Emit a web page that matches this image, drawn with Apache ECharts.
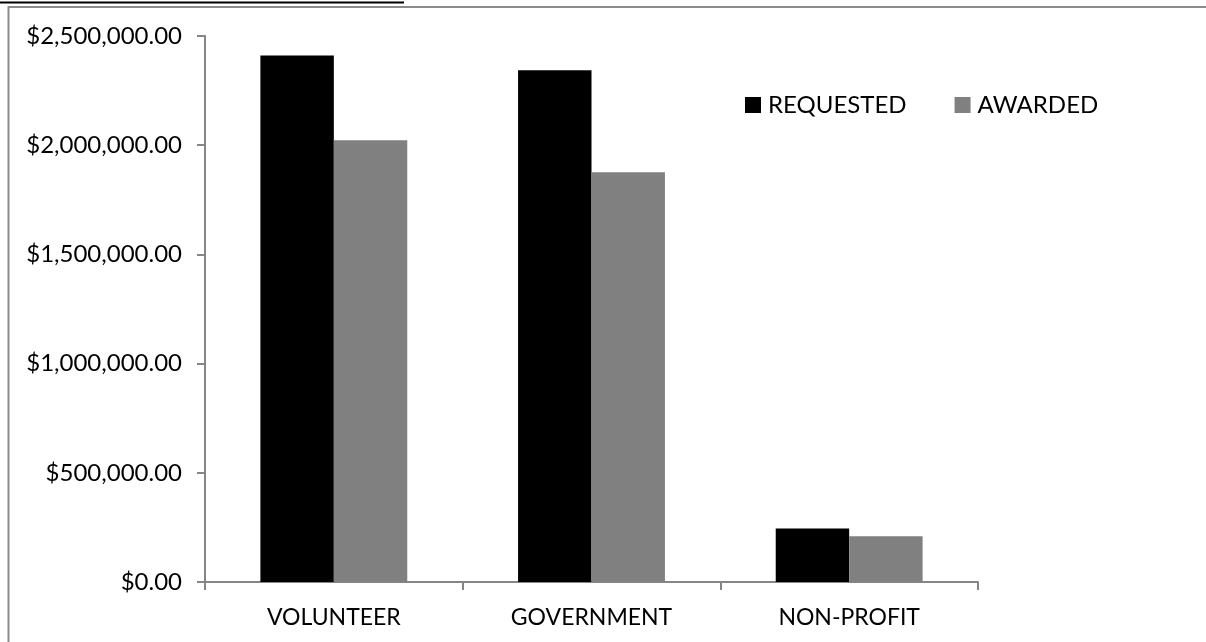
<!DOCTYPE html>
<html>
<head>
<meta charset="utf-8">
<style>
  html, body { margin: 0; padding: 0; background: #fff; }
  #chart { width: 1206px; height: 642px; }
</style>
<script src="https://cdn.jsdelivr.net/npm/echarts@6/dist/echarts.min.js"></script>
</head>
<body>
<div id="chart"></div>
<script>
// Agency categories and dollar amounts
const categories = ['VOLUNTEER', 'GOVERNMENT', 'NON-PROFIT'];
const requested = [2411000, 2343000, 245000];
const awarded = [2023000, 1876000, 210000];
const seriesNames = ['REQUESTED', 'AWARDED'];

const FONT = 'Lato, "Open Sans", sans-serif';
const AXIS_GRAY = '#868686';

function money(v) {
  const parts = v.toFixed(2).split('.');
  parts[0] = parts[0].replace(/\B(?=(\d{3})+(?!\d))/g, ',');
  return '$' + parts.join('.');
}

const chart = echarts.init(document.getElementById('chart'), null, { renderer: 'canvas' });

chart.setOption({
  backgroundColor: '#ffffff',
  animation: false,
  textStyle: { fontFamily: FONT },
  grid: { left: 205, right: 228, top: 36, bottom: 60, containLabel: false },
  legend: {
    data: seriesNames,
    left: 745,
    top: 93,
    padding: 0,
    itemWidth: 16,
    itemHeight: 16,
    itemGap: 48,
    icon: 'rect',
    textStyle: { fontFamily: FONT, fontSize: 24, color: '#000', padding: [0, 0, 0, 2] }
  },
  xAxis: {
    type: 'category',
    data: categories,
    axisLine: { lineStyle: { color: AXIS_GRAY, width: 2 } },
    axisTick: { show: true, length: 8, lineStyle: { color: AXIS_GRAY, width: 2 } },
    axisLabel: { color: '#000', fontFamily: FONT, fontSize: 23, margin: 24 },
    splitLine: { show: false }
  },
  yAxis: {
    type: 'value',
    min: 0,
    max: 2500000,
    interval: 500000,
    axisLine: { show: true, lineStyle: { color: AXIS_GRAY, width: 2 } },
    axisTick: { show: true, length: 8, lineStyle: { color: AXIS_GRAY, width: 2 } },
    axisLabel: { color: '#000', fontFamily: FONT, fontSize: 24, margin: 23, formatter: money },
    splitLine: { show: false }
  },
  series: [
    {
      name: seriesNames[0],
      type: 'bar',
      data: requested,
      barGap: '0%',
      barCategoryGap: '43%',
      itemStyle: { color: '#000000' }
    },
    {
      name: seriesNames[1],
      type: 'bar',
      data: awarded,
      barGap: '0%',
      barCategoryGap: '43%',
      itemStyle: { color: '#808080' }
    }
  ],
  graphic: [
    // chart area frame
    {
      type: 'rect',
      shape: { x: 8.5, y: 7, width: 1220, height: 660 },
      style: { fill: 'none', stroke: '#8c8c8c', lineWidth: 2 },
      silent: true
    },
    // underline of the caption running above the frame
    {
      type: 'line',
      shape: { x1: 0, y1: 2.5, x2: 404, y2: 2.5 },
      style: { stroke: '#000', lineWidth: 2 },
      silent: true
    }
  ]
});
</script>
</body>
</html>
